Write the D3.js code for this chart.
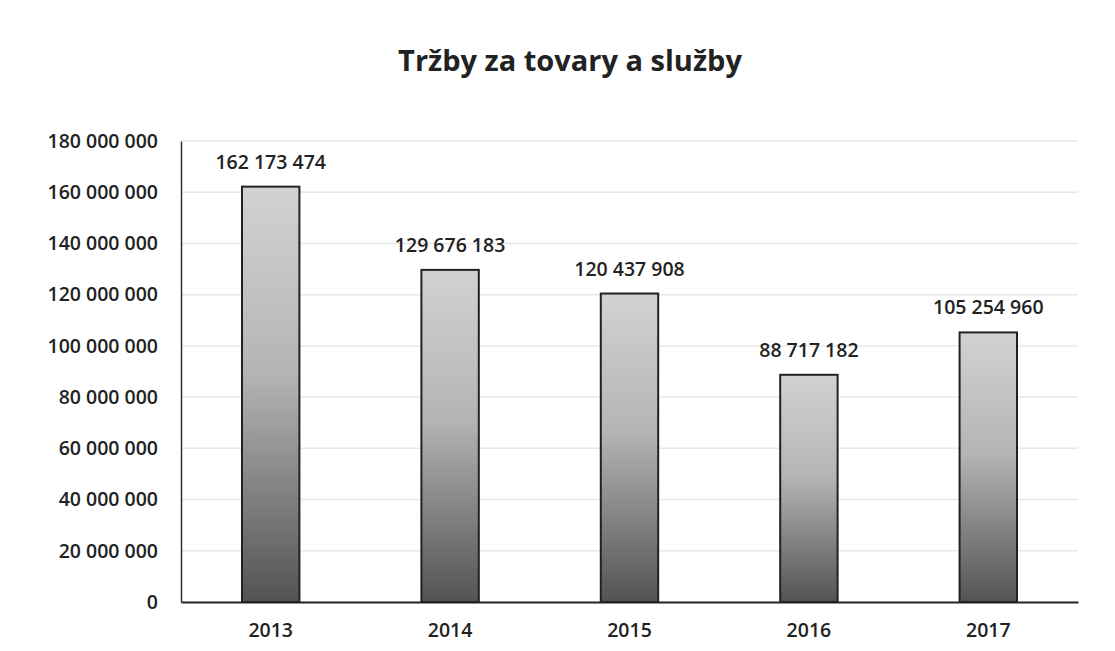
<!DOCTYPE html>
<html><head><meta charset="utf-8">
<script src="https://cdn.jsdelivr.net/npm/d3@7"></script>
<style>body{margin:0;background:#fff}</style>
</head><body>
<svg id="c" width="1115" height="651"></svg>
<script>
const categories = ["2013","2014","2015","2016","2017"];
const values = [162173474, 129676183, 120437908, 88717182, 105254960];
const yTicks = [0,20000000,40000000,60000000,80000000,100000000,120000000,140000000,160000000,180000000];
const title = "Tržby za tovary a služby";

const fmt = v => d3.format(",")(v).replace(/,/g, " ");
const svg = d3.select("#c");
const FONT = "Open Sans, Lato, sans-serif";
const mLeft = 181, mRight = 1078, mTop = 141, mBottom = 602;

const x = d3.scaleBand().domain(categories).range([mLeft, mRight]).paddingInner(0.68).paddingOuter(0.34);
const y = d3.scaleLinear().domain([0, 180000000]).range([mBottom, mTop]);

const defs = svg.append("defs");
const g = defs.append("linearGradient").attr("id","grad").attr("x1",0).attr("y1",0).attr("x2",0).attr("y2",1);
g.append("stop").attr("offset","0%").attr("stop-color","#d2d2d2");
g.append("stop").attr("offset","45%").attr("stop-color","#b4b4b4");
g.append("stop").attr("offset","100%").attr("stop-color","#535353");

// gridlines
svg.append("g").selectAll("line").data(yTicks.filter(d=>d>0)).join("line")
  .attr("x1", mLeft).attr("x2", mRight).attr("y1", d=>y(d)).attr("y2", d=>y(d))
  .attr("stroke","#e8e8e8").attr("stroke-width",1.5);

// y axis
const ya = svg.append("g").attr("transform",`translate(${mLeft},0)`)
  .call(d3.axisLeft(y).tickValues(yTicks).tickFormat(fmt).tickSize(0).tickPadding(23));
ya.select(".domain").attr("stroke","#333").attr("stroke-width",1.5);
ya.selectAll("text").attr("font-family",FONT).attr("font-size",19.5).attr("font-weight",600).attr("fill","#222");

// x axis
const xa = svg.append("g").attr("transform",`translate(0,${mBottom})`)
  .call(d3.axisBottom(x).tickSize(0).tickPadding(21));
xa.select(".domain").attr("stroke","#222").attr("stroke-width",2);
xa.selectAll("text").attr("font-family",FONT).attr("font-size",19.5).attr("font-weight",600).attr("fill","#222");

// bars
svg.append("g").selectAll("rect").data(values).join("rect")
  .attr("x",(d,i)=>x(categories[i])).attr("width",x.bandwidth())
  .attr("y",d=>y(d)).attr("height",d=>y(0)-y(d))
  .attr("fill","url(#grad)").attr("stroke","#222").attr("stroke-width",2);

// labels
svg.append("g").selectAll("text").data(values).join("text")
  .attr("x",(d,i)=>x(categories[i])+x.bandwidth()/2).attr("y",d=>y(d)-18)
  .attr("text-anchor","middle").attr("font-family",FONT).attr("font-size",19.5).attr("font-weight",600).attr("fill","#222")
  .text(fmt);

svg.append("text").attr("x",570).attr("y",71).attr("text-anchor","middle")
  .attr("font-family",FONT).attr("font-size",29).attr("font-weight",700).attr("fill","#222").text(title);
</script>
</body></html>
